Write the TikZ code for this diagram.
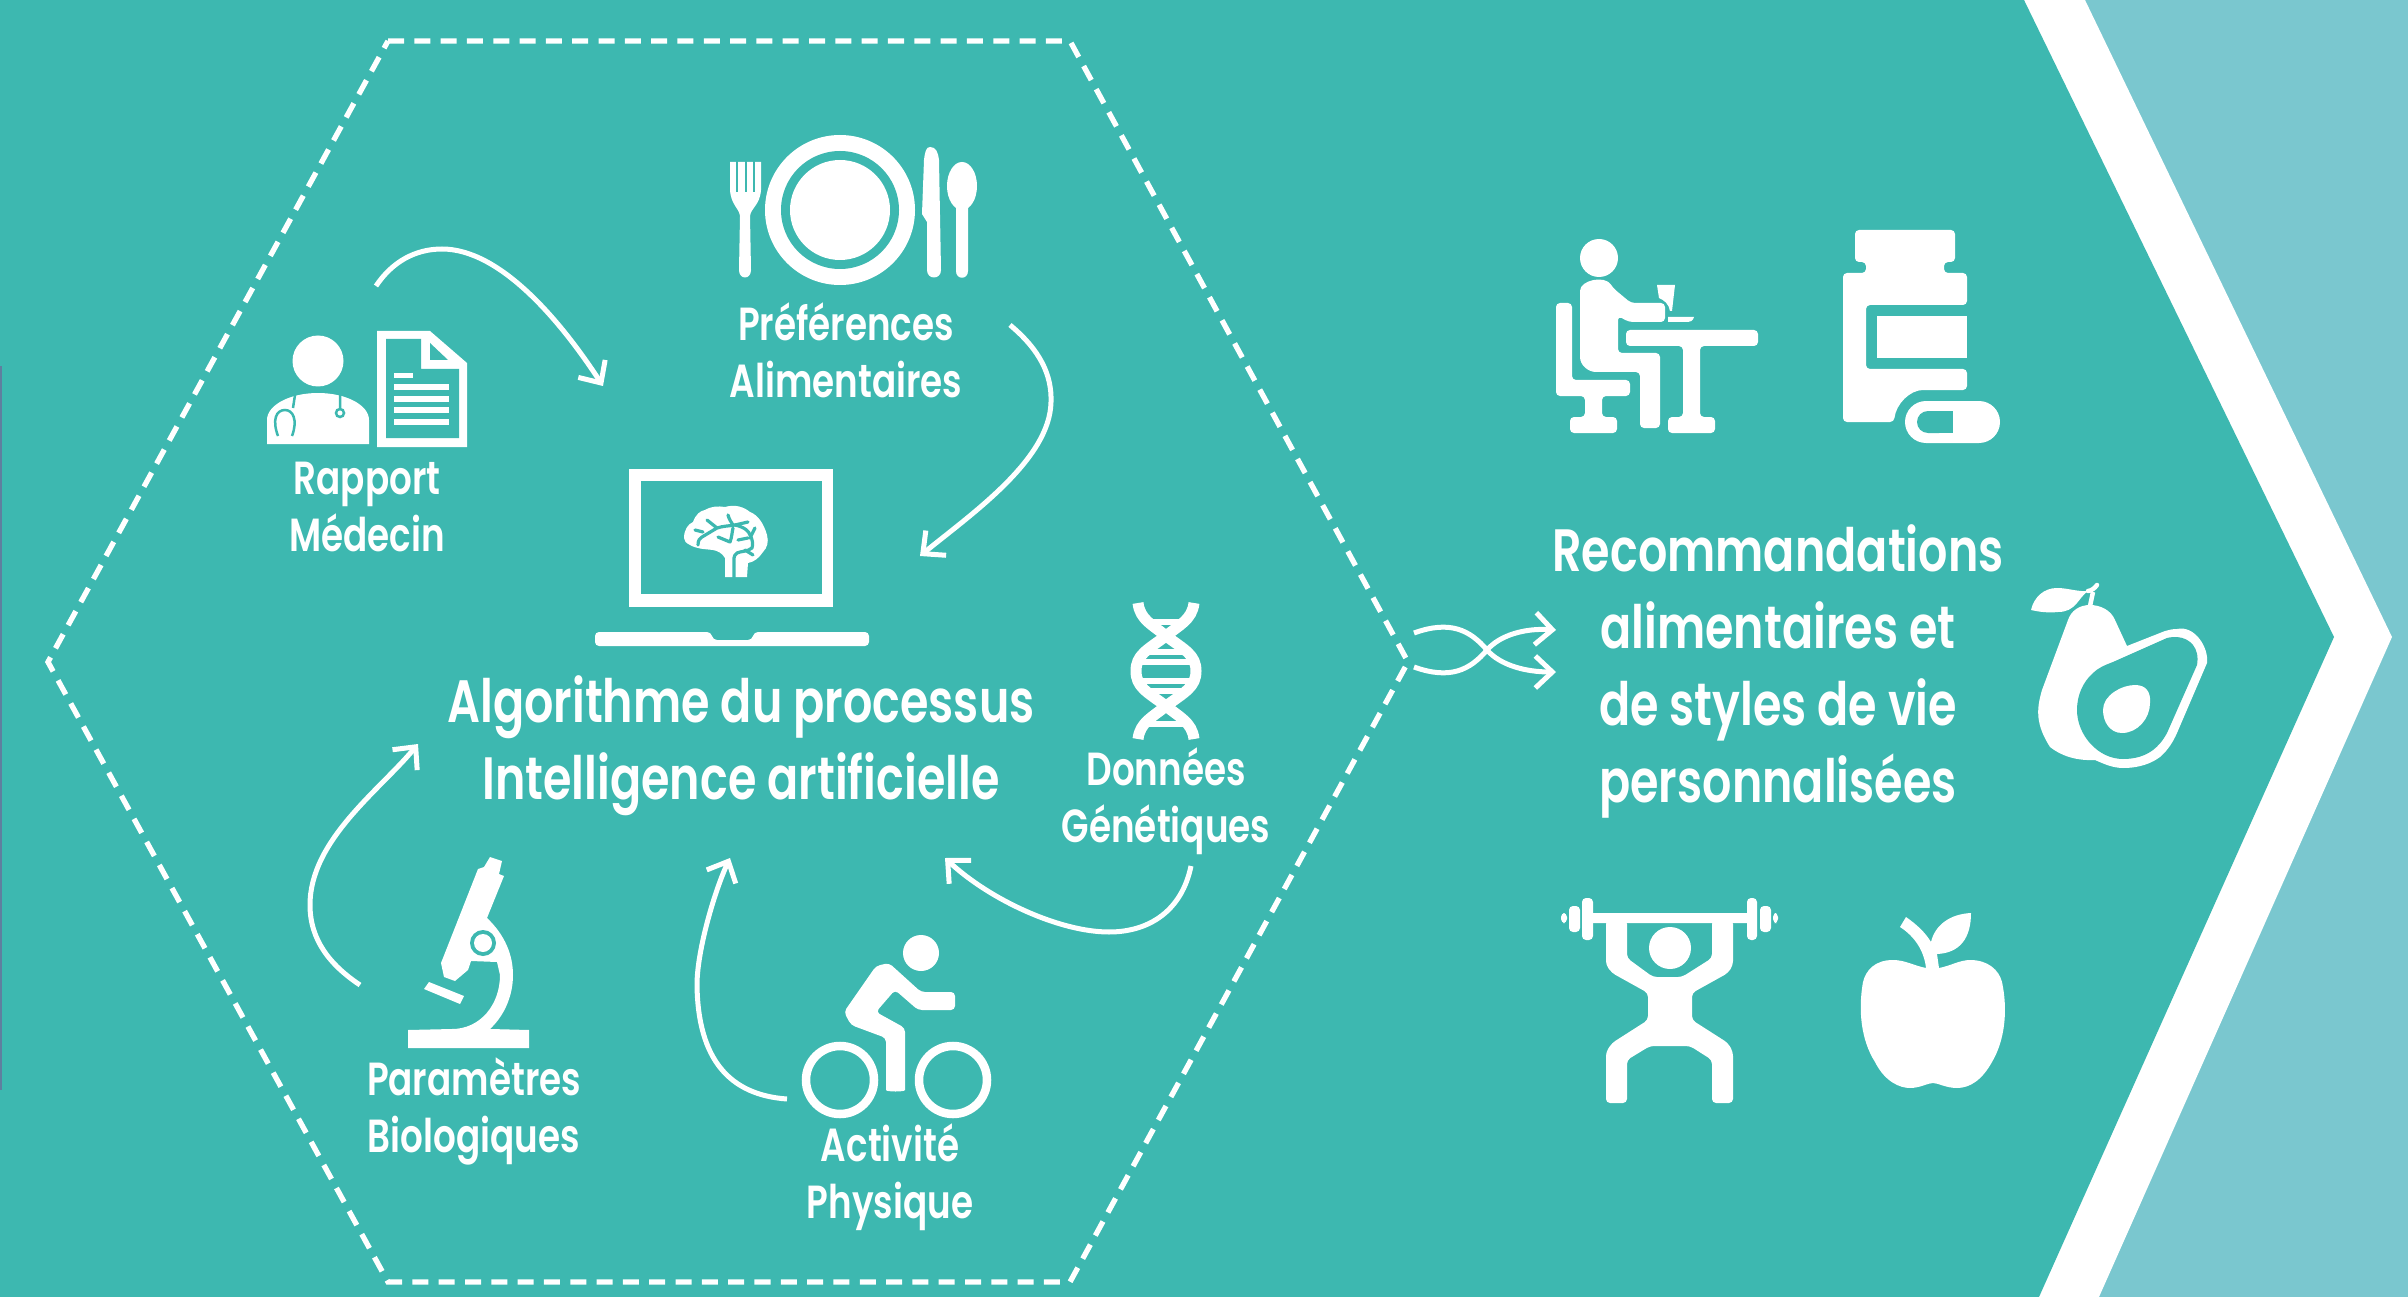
\documentclass[tikz,border=0pt]{standalone}
\usepackage{fontspec}
\setmainfont[FakeStretch=0.77]{Poppins SemiBold}
\usepackage{tikz}
\usetikzlibrary{arrows.meta}
\usetikzlibrary{positioning}
\definecolor{tealbg}{HTML}{3DB8B0}
\definecolor{bluebg}{HTML}{7AC7CF}
\definecolor{edgeline}{HTML}{5F7F9F}
\tikzset{
  flow/.style={draw=white,line width=0.5mm,-{Straight Barb[length=1.7mm,width=3.2mm]}},
  smalllab/.style={text=white,align=center,inner sep=0pt,font=\fontsize{13.2}{16.2}\selectfont},
  biglab/.style={text=white,align=center,inner sep=0pt,font=\fontsize{17}{21.9}\selectfont},
  icon/.style={fill=white,draw=none},
  hole/.style={fill=tealbg,draw=none},
  soft/.style={fill=white,draw=none,rounded corners=0.4mm},
  crease/.style={draw=tealbg,line width=0.32mm,line cap=round,line join=round}
}
\begin{document}
\begin{tikzpicture}[x=0.01cm,y=-0.01cm]
\useasboundingbox (0,0) rectangle (2408,1297);
\fill[bluebg] (0,0) rectangle (2408,1297);
\fill[white] (0,0) -- (2085,0) -- (2392,637) -- (2099,1297) -- (0,1297) -- cycle;
\fill[tealbg] (0,0) -- (2024,0) -- (2334,637) -- (2039,1297) -- (0,1297) -- cycle;
\fill[edgeline] (0,366) rectangle (1.6,1090);
\draw[white,line width=0.53mm,dash pattern=on 1.6mm off 1.03mm] (388,41) -- (1070,41) -- (1408,662) -- (1070,1282) -- (388,1282) -- (48,662) -- cycle;

\node[smalllab] (preferences) at (846,350) {Préférences\\Alimentaires};
\node[smalllab] (rapport) at (367,507) {Rapport\\Médecin};
\node[smalllab] (genetique) at (1166,801) {Données\\Génétiques};
\node[smalllab] (parametres) at (474,1111) {Paramètres\\Biologiques};
\node[smalllab] (activite) at (890,1177) {Activité\\Physique};
\node[biglab] (algo) at (741,746) {Algorithme du processus\\Intelligence artificielle};
\node[biglab] (reco) at (1778,671) {Recommandations\\alimentaires et\\de styles de vie\\personnalisées};

\coordinate (rapportout) at (376,286);
\coordinate (rapportin) at (603,386);
\coordinate (prefout) at (1010,325);
\coordinate (prefin) at (920,556);
\coordinate (genout) at (1191,866);
\coordinate (genin) at (945,858);
\coordinate (actout) at (787,1099);
\coordinate (actin) at (730,858);
\coordinate (paraout) at (360,985);
\coordinate (parain) at (418,744);
\coordinate (hexout) at (1414,633);
\coordinate (hexoutb) at (1414,667);
\coordinate (recoin) at (1556,672);
\coordinate (recoinb) at (1556,630);
\draw[flow] (rapportout) .. controls (392,262) and (415,249) .. (442,249) .. controls (500,249) and (560,320) .. (rapportin);
\draw[flow] (prefout) .. controls (1040,350) and (1052,375) .. (1051,402) .. controls (1050,460) and (970,515) .. (prefin);
\draw[flow] (genout) .. controls (1182,910) and (1150,932) .. (1109,932) .. controls (1060,932) and (990,900) .. (genin);
\draw[flow] (actout) .. controls (730,1095) and (698,1060) .. (697,985) .. controls (697,950) and (715,890) .. (actin);
\draw[flow] (paraout) .. controls (330,965) and (310,940) .. (310,905) .. controls (310,840) and (380,790) .. (parain);
\draw[flow] (hexout) .. controls (1450,620) and (1470,630) .. (1487,650) .. controls (1500,665) and (1525,672) .. (recoin);
\draw[flow] (hexoutb) .. controls (1450,680) and (1470,670) .. (1487,650) .. controls (1500,635) and (1525,628) .. (recoinb);

\fill[icon] (840,210) circle (75);
\fill[hole] (840,210) circle (59);
\fill[icon] (840,210) circle (50);
\fill[icon] (730,162) -- (730,190) .. controls (731,205) and (739,208) .. (740,216) -- (739,270) .. controls (739,280) and (751,280) .. (751,270) -- (750,216) .. controls (751,208) and (760,205) .. (761,190) -- (761,162) -- cycle;
\foreach \x in {737,745.5,754} \draw[tealbg,line width=0.2mm] (\x,160) -- (\x,192);
\fill[icon] (930,147) .. controls (936,147) and (938,152) .. (939,160) -- (941,270) .. controls (941,280) and (927,280) .. (927,270) -- (927,222) -- (922,214) -- (924,160) .. controls (925,152) and (926,147) .. (930,147) -- cycle;
\fill[icon] (962,186) ellipse (15 and 24);
\fill[icon] (956,200) -- (956,271) .. controls (956,280) and (968,280) .. (968,271) -- (968,200) -- cycle;

\fill[icon] (318,361) circle (25.5);
\fill[icon] (267,444) -- (267,420) .. controls (267,405) and (290,393) .. (318,393) .. controls (346,393) and (369,405) .. (369,420) -- (369,444) -- cycle;
\draw[tealbg,line width=0.25mm] (295,395) -- (293,408) (278,436) .. controls (272,420) and (276,410) .. (285,410) .. controls (293,410) and (298,420) .. (292,436) (340,395) -- (340,408);
\draw[tealbg,line width=0.25mm] (340,413) circle (4);
\fill[icon] (377,331) -- (430,331) -- (467,363) -- (467,447) -- (377,447) -- cycle;
\fill[hole] (386,339) -- (421,339) -- (421,369) -- (459,369) -- (459,438) -- (386,438) -- cycle;
\fill[hole] (430,343) -- (430,360) -- (448,360) -- cycle;
\fill[icon] (394,373) rectangle (413,378);
\foreach \y in {384,396,407,419} \fill[icon] (394,\y) rectangle (449,\y+6);

\fill[icon] (629,469) rectangle (833,607);
\fill[hole] (641,481) rectangle (822,594);
\fill[soft] (595,632) -- (711,632) -- (713,640) -- (752,640) -- (754,632) -- (869,632) -- (869,646) -- (595,646) -- cycle;
\fill[icon] (684,538) .. controls (684,530) and (688,524) .. (693,522) .. controls (696,514) and (700,511) .. (705,510) .. controls (712,506) and (718,506) .. (725,507) .. controls (735,504) and (744,507) .. (750,512) .. controls (758,515) and (764,524) .. (767,535) .. controls (769,542) and (767,548) .. (763,552) .. controls (759,558) and (754,562) .. (748,563) -- (747,577) -- (725,577) -- (725,558) .. controls (722,553) and (718,551) .. (713,550) .. controls (704,549) and (697,549) .. (690,545) .. controls (686,543) and (684,541) .. (684,538) -- cycle;
\draw[crease] (698,545) .. controls (698,540) and (700,538) .. (702,537) -- (717,528) .. controls (723,526) and (729,526) .. (735,525) -- (748,522);
\draw[crease] (707,520) -- (717,528);
\draw[crease] (728,515) .. controls (729,519) and (731,522) .. (733,525);
\draw[crease] (718,537) -- (730,542) .. controls (732,537) and (732,532) .. (733,528);
\draw[crease] (735,525) .. controls (744,527) and (749,531) .. (750,535) .. controls (753,540) and (753,545) .. (752,548) .. controls (747,552) and (741,551) .. (737,553) .. controls (735,555) and (734,556) .. (734,558) -- (734,578);
\draw[crease] (755,528) -- (750,538);
\draw[crease] (738,540) -- (748,538);
\draw[crease] (695,530) -- (703,532);
\draw[crease] (745,550) -- (753,555);

\foreach \s in {1,-1} \draw[white,line width=1.1mm] (1166-\s*28,603) .. controls (1166-\s*26,620) and (1166-\s*13,625) .. (1166,636) .. controls (1166+\s*19,650) and (1166+\s*30,655) .. (1166+\s*30,671) .. controls (1166+\s*30,687) and (1166+\s*19,692) .. (1166,706) .. controls (1166-\s*13,717) and (1166-\s*26,722) .. (1166-\s*28,739);
\foreach \y/\w in {622/18,652/18,662/26,681/26,691/18,724/18} \draw[white,line width=0.55mm] (1166-\w,\y) -- (1166+\w,\y);

\fill[icon] (490,857) -- (502,861) -- (499,874) -- (504,876) -- (487,918) .. controls (505,935) and (513,955) .. (513,975) .. controls (513,995) and (505,1015) .. (490,1029) -- (529,1030) -- (529,1048) -- (408,1048) -- (408,1030) -- (452,1029) .. controls (480,1029) and (500,1005) .. (500,975) -- (497,962) -- (471,961) -- (468,970) -- (455,981) -- (444,977) -- (441,963) -- (478,869) -- (484,867) -- cycle;
\fill[hole] (483,943) circle (13);
\fill[icon] (483,943) circle (9);
\fill[icon] (429,982) -- (464,996) -- (460,1004) -- (424,989) -- cycle;

\fill[icon] (921,953) circle (18);
\fill[soft] (889,963) -- (921,992) -- (955,992) -- (955,1010) -- (918,1010) -- (895,990) -- (876,1012) -- (905,1028) -- (905,1086) .. controls (905,1092) and (886,1092) .. (886,1086) -- (886,1038) -- (851,1025) -- (844,1012) -- (876,966) -- cycle;
\draw[white,line width=0.85mm] (840,1080) circle (34);
\draw[white,line width=0.85mm] (953,1080) circle (34);

\fill[icon] (1599,258) circle (19);
\fill[soft] (1580,353) -- (1580,295) .. controls (1580,280) and (1605,275) .. (1613,288) -- (1631,303) -- (1665,303) -- (1665,322) -- (1629,322) -- (1618,316) -- (1618,353) -- (1660,353) -- (1660,428) -- (1640,428) -- (1640,372) -- (1600,372) .. controls (1588,372) and (1580,365) .. (1580,353) -- cycle;
\fill[soft] (1556,303) -- (1572,303) -- (1572,380) -- (1630,380) -- (1630,396) -- (1602,396) -- (1602,417) -- (1617,417) -- (1617,433) -- (1570,433) -- (1570,417) -- (1585,417) -- (1585,396) -- (1556,396) -- cycle;
\fill[soft] (1626,330) -- (1758,330) -- (1758,346) -- (1700,346) -- (1700,417) -- (1715,417) -- (1715,433) -- (1668,433) -- (1668,417) -- (1683,417) -- (1683,346) -- (1626,346) -- cycle;
\fill[icon] (1657,285) -- (1675,285) -- (1672,311) -- (1670,311) .. controls (1669,304) and (1664,300) .. (1659,298) -- cycle;
\fill[icon] (1668,317) -- (1694,317) .. controls (1693,321) and (1690,322) .. (1688,322) -- (1668,322) -- cycle;

\fill[soft] (1855,230) -- (1955,230) -- (1955,262) -- (1944,262) -- (1944,273) -- (1967,273) -- (1967,305) -- (1866,305) -- (1866,369) -- (1967,369) -- (1967,390) -- (1927,390) .. controls (1910,390) and (1896,404) .. (1894,422) -- (1843,422) -- (1843,273) -- (1866,273) -- (1866,262) -- (1855,262) -- cycle;
\fill[icon] (1877,316) rectangle (1967,358);
\fill[icon,rounded corners=2.1mm] (1905,401) rectangle (2000,443);
\fill[hole,rounded corners=1.1mm] (1917,411) rectangle (1950,433);
\fill[hole] (1935,411) rectangle (1953,433);

\fill[soft] (1587,913) -- (1753,913) -- (1753,923) -- (1587,923) -- cycle;
\fill[soft] (1582,898) rectangle (1593,940);
\fill[soft] (1747,898) rectangle (1757,940);
\fill[soft] (1569,906) rectangle (1580,932);
\fill[soft] (1760,906) rectangle (1771,932);
\fill[soft] (1561,913) rectangle (1567,923);
\fill[soft] (1773,913) rectangle (1778,923);
\fill[icon] (1670,948) circle (21);
\fill[soft] (1606,920) -- (1606,965) -- (1612,973) -- (1648,993) -- (1648,1020) -- (1612,1043) -- (1606,1052) -- (1606,1103) -- (1627,1103) -- (1627,1060) -- (1650,1046) -- (1690,1046) -- (1712,1060) -- (1712,1103) -- (1733,1103) -- (1733,1052) -- (1728,1043) -- (1692,1020) -- (1692,993) -- (1728,973) -- (1733,965) -- (1733,920) -- (1712,920) -- (1712,958) -- (1682,977) -- (1653,977) -- (1627,958) -- (1627,920) -- cycle;

\fill[icon] (1926,968) .. controls (1915,966) and (1905,960) .. (1893,960) .. controls (1875,960) and (1866,970) .. (1863,982) .. controls (1858,1010) and (1861,1040) .. (1875,1062) .. controls (1885,1082) and (1900,1088) .. (1910,1088) .. controls (1920,1088) and (1928,1083) .. (1933,1083) .. controls (1938,1083) and (1946,1088) .. (1957,1088) .. controls (1970,1088) and (1982,1080) .. (1992,1062) .. controls (2005,1040) and (2008,1010) .. (2002,982) .. controls (1999,970) and (1988,960) .. (1970,960) .. controls (1960,960) and (1950,966) .. (1939,968) -- (1937,954) .. controls (1960,953) and (1971,938) .. (1971,913) .. controls (1950,914) and (1935,925) .. (1931,942) .. controls (1925,932) and (1916,924) .. (1906,917) -- (1900,927) .. controls (1914,936) and (1924,950) .. (1926,968) -- cycle;

\fill[icon] (2031,610) .. controls (2034,597) and (2044,588) .. (2057,588) .. controls (2068,588) and (2078,592) .. (2088,591) .. controls (2078,598) and (2076,612) .. (2058,612) .. controls (2048,613) and (2040,612) .. (2031,610) -- cycle;
\draw[white,line width=0.45mm,line cap=round] (2088,591) .. controls (2091,591) and (2095,588) .. (2097,585);
\draw[white,line width=0.45mm] (2090,606) -- (2093,592);
\fill[icon] (2090,605) .. controls (2079,605) and (2071,611) .. (2068,620) -- (2042,690) .. controls (2036,710) and (2036,725) .. (2050,747) .. controls (2060,755) and (2075,761) .. (2095,760) .. controls (2104,764) and (2113,768) .. (2123,768) .. controls (2140,768) and (2152,763) .. (2160,757) .. controls (2168,750) and (2173,742) .. (2177,733) -- (2207,663) .. controls (2209,648) and (2195,625) .. (2177,629) .. controls (2172,629) and (2169,630) .. (2165,631) -- (2127,646) -- (2115,620) .. controls (2111,610) and (2100,605) .. (2090,605) -- cycle;
\fill[hole] (2177,637) .. controls (2190,638) and (2200,648) .. (2197,665) -- (2167,733) .. controls (2162,742) and (2158,746) .. (2153,750) .. controls (2145,756) and (2135,759) .. (2123,759) .. controls (2098,759) and (2077,735) .. (2077,710) .. controls (2077,695) and (2083,682) .. (2093,673) .. controls (2098,668) and (2105,665) .. (2113,662) -- (2167,638) .. controls (2171,637) and (2174,637) .. (2177,637) -- cycle;
\fill[icon] (2103,710) .. controls (2103,722) and (2110,733) .. (2122,733) .. controls (2138,733) and (2150,718) .. (2150,703) .. controls (2151,692) and (2146,685) .. (2135,685) .. controls (2122,685) and (2103,695) .. (2103,710) -- cycle;
\end{tikzpicture}
\end{document}
